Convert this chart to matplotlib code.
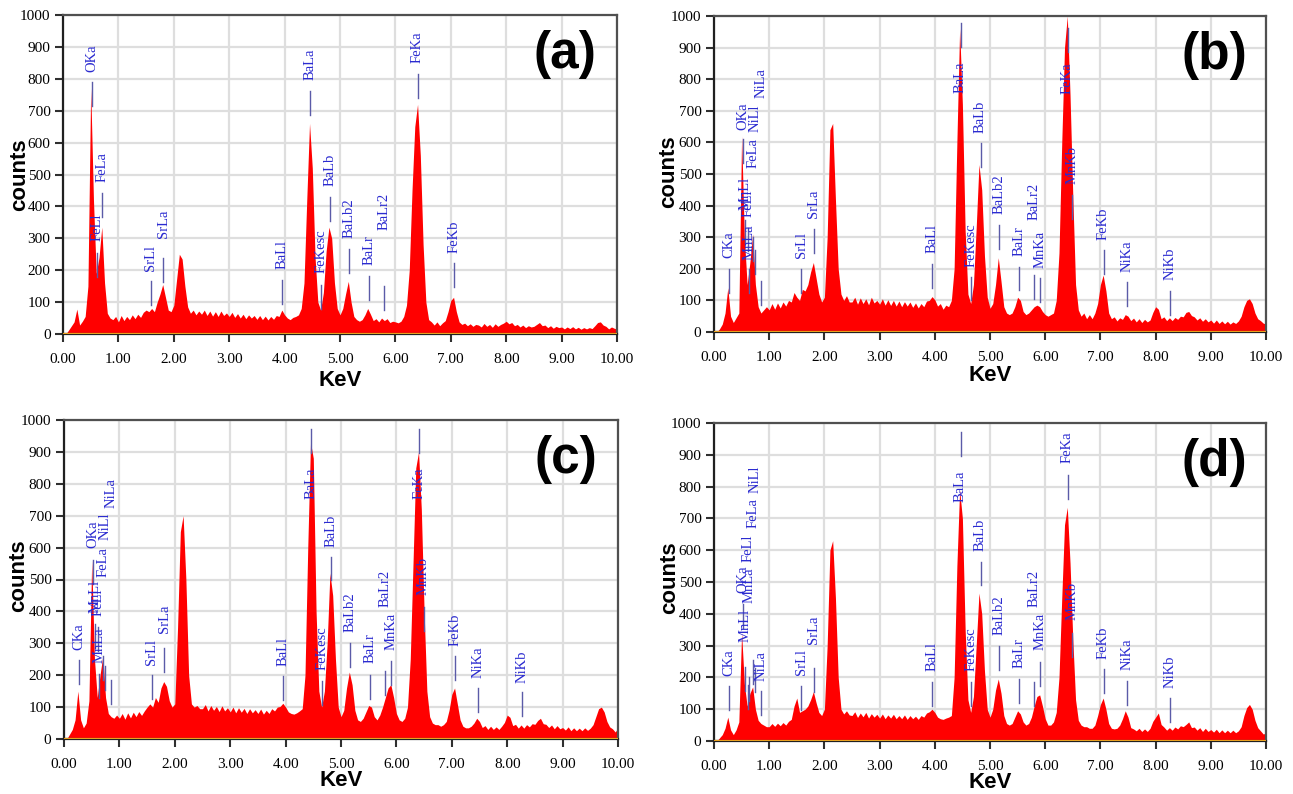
import numpy as np
import matplotlib
matplotlib.use('Agg')
import matplotlib.pyplot as plt

# Energy channels (keV), 0.05 keV step
energy = np.round(np.arange(0, 10.0001, 0.05), 2)

counts_a = [
    0, 0, 12, 25, 38, 78, 28, 40, 55, 150,
    770, 420, 190, 240, 335, 160, 65, 50, 45, 55,
    38, 58, 42, 55, 45, 60, 48, 62, 52, 68,
    75, 70, 80, 70, 100, 125, 155, 115, 75, 70,
    90, 170, 250, 235, 150, 85, 65, 75, 60, 72,
    62, 75, 58, 72, 56, 70, 55, 72, 58, 66,
    55, 68, 52, 64, 50, 62, 48, 60, 50, 58,
    46, 58, 45, 56, 44, 55, 46, 58, 55, 75,
    60, 50, 45, 52, 55, 60, 80, 160, 420, 660,
    520, 240, 100, 75, 130, 260, 335, 300, 160, 80,
    60, 80, 125, 165, 100, 55, 45, 40, 45, 60,
    80, 62, 42, 48, 38, 50, 42, 48, 36, 40,
    38, 35, 40, 55, 90, 200, 450, 650, 720, 560,
    280, 100, 45, 38, 28, 38, 26, 35, 42, 70,
    105, 115, 70, 38, 30, 34, 26, 32, 24, 30,
    28, 22, 33, 24, 30, 21, 32, 24, 30, 34,
    40, 32, 36, 26, 30, 22, 28, 20, 26, 22,
    24, 30, 36, 26, 28, 20, 26, 18, 24, 20,
    22, 16, 22, 17, 23, 16, 21, 15, 20, 16,
    20, 17, 26, 36, 38, 28, 24, 16, 22, 18,
    15]

counts_b = [
    0, 0, 10, 25, 60, 140, 50, 30, 45, 60,
    620, 300, 150, 220, 310, 150, 80, 60, 70, 80,
    70, 90, 72, 92, 76, 95, 82, 100, 95, 125,
    110, 100, 135, 130, 150, 190, 220, 170, 120, 95,
    110, 300, 640, 660, 420, 200, 120, 100, 115, 95,
    95, 110, 88, 108, 90, 105, 86, 110, 92, 100,
    88, 105, 85, 102, 84, 100, 82, 98, 80, 96,
    82, 95, 78, 92, 76, 90, 80, 98, 100, 112,
    102, 82, 90, 72, 85, 80, 100, 200, 600, 960,
    720, 320, 120, 90, 150, 330, 530, 450, 240, 110,
    75, 90, 150, 235, 160, 80, 60, 55, 60, 80,
    110, 100, 65, 55, 60, 70, 80, 85, 80, 65,
    55, 50, 55, 60, 100, 250, 600, 900, 1000, 750,
    430, 150, 70, 50, 60, 42, 55, 42, 60, 90,
    150, 180, 130, 60, 42, 48, 35, 45, 40, 55,
    50, 36, 44, 32, 42, 30, 40, 32, 38, 62,
    80, 72, 42, 48, 36, 45, 36, 46, 40, 50,
    48, 62, 65, 52, 48, 38, 45, 34, 42, 32,
    38, 28, 38, 27, 35, 26, 34, 25, 32, 27,
    35, 50, 80, 100, 105, 90, 60, 42, 36, 28,
    25]

counts_c = [
    0, 0, 15, 30, 60, 150, 60, 35, 50, 120,
    560, 250, 130, 200, 260, 130, 80, 70, 65, 75,
    65, 80, 62, 82, 66, 84, 70, 86, 74, 88,
    100, 110, 100, 130, 115, 160, 180, 165, 120, 100,
    110, 350, 650, 700, 500, 200, 110, 100, 105, 95,
    95, 108, 88, 105, 90, 102, 86, 104, 88, 98,
    85, 100, 82, 98, 84, 96, 80, 95, 82, 92,
    80, 94, 78, 90, 80, 95, 88, 100, 102, 112,
    100, 85, 80, 78, 82, 88, 95, 200, 600, 930,
    880, 400, 150, 100, 150, 300, 520, 450, 250, 100,
    70, 90, 160, 210, 170, 90, 60, 55, 65, 85,
    105, 100, 70, 60, 75, 100, 130, 160, 170, 130,
    80, 60, 55, 65, 100, 250, 550, 850, 900, 720,
    400, 150, 70, 50, 45, 45, 40, 45, 55, 90,
    140, 160, 110, 60, 40, 35, 35, 40, 50, 65,
    55, 36, 42, 30, 40, 30, 38, 30, 40, 52,
    75, 68, 42, 46, 34, 44, 34, 45, 38, 48,
    46, 58, 65, 48, 46, 36, 44, 32, 42, 32,
    36, 28, 38, 26, 35, 26, 34, 26, 35, 27,
    34, 45, 70, 95, 100, 85, 55, 38, 32, 22,
    35]

counts_d = [
    0, 0, 10, 20, 40, 75, 35, 20, 35, 60,
    340, 180, 110, 150, 170, 100, 65, 55, 50, 45,
    45, 55, 46, 56, 48, 58, 50, 62, 68, 110,
    135, 90, 95, 100, 110, 130, 155, 120, 90, 80,
    100, 300, 600, 630, 450, 200, 100, 85, 95, 82,
    80, 92, 74, 88, 76, 90, 72, 86, 75, 84,
    72, 85, 70, 82, 72, 84, 70, 80, 70, 82,
    68, 80, 70, 78, 68, 80, 75, 88, 92, 100,
    90, 75, 70, 68, 72, 75, 80, 200, 550, 790,
    700, 350, 130, 90, 140, 300, 465, 400, 220, 100,
    75, 100, 160, 195, 150, 80, 55, 50, 55, 75,
    95, 85, 60, 50, 55, 75, 110, 140, 145, 110,
    70, 50, 50, 60, 90, 200, 450, 680, 735, 560,
    320, 130, 65, 50, 45, 45, 40, 40, 50, 80,
    115, 135, 100, 55, 40, 38, 40, 50, 70, 95,
    75, 42, 38, 32, 40, 30, 38, 30, 40, 62,
    75, 88, 52, 44, 34, 42, 34, 44, 38, 48,
    45, 52, 60, 42, 44, 34, 42, 30, 40, 30,
    36, 28, 37, 26, 35, 26, 34, 26, 34, 26,
    32, 45, 80, 105, 115, 100, 65, 42, 32, 22,
    25]

# Peak markers: (label, energy keV, marker-line top, label base)
markers_a = [
    ('OKa', 0.525, 790, 820), ('FeLl', 0.615, 255, 290), ('FeLa', 0.705, 442, 477),
    ('SrLl', 1.58, 166, 198), ('SrLa', 1.81, 237, 301), ('BaLl', 3.95, 169, 204),
    ('BaLa', 4.466, 763, 796), ('FeKesc', 4.66, 154, 191), ('BaLb', 4.828, 430, 464),
    ('BaLb2', 5.157, 265, 301), ('BaLr', 5.531, 182, 216), ('BaLr2', 5.80, 150, 326),
    ('FeKa', 6.40, 815, 850), ('FeKb', 7.06, 222, 254)]
markers_b = [
    ('CKa', 0.277, 199, 234), ('OKa', 0.525, 610, 639), ('MnLl', 0.556, 355, 386),
    ('FeLl', 0.615, 330, 365), ('MnLa', 0.637, 200, 228), ('FeLa', 0.705, 300, 519),
    ('NiLl', 0.743, 260, 633), ('NiLa', 0.851, 162, 740), ('SrLl', 1.58, 199, 234),
    ('SrLa', 1.81, 326, 361), ('BaLl', 3.95, 215, 250), ('BaLa', 4.466, 978, 756),
    ('FeKesc', 4.66, 175, 207), ('BaLb', 4.828, 598, 630), ('BaLb2', 5.157, 339, 373),
    ('BaLr', 5.531, 207, 240), ('BaLr2', 5.80, 180, 354), ('MnKa', 5.899, 170, 203),
    ('FeKa', 6.404, 962, 753), ('MnKb', 6.49, 434, 468), ('FeKb', 7.058, 259, 291),
    ('NiKa', 7.478, 158, 190), ('NiKb', 8.265, 130, 165)]
markers_c = [
    ('CKa', 0.277, 248, 280), ('OKa', 0.525, 562, 598), ('MnLl', 0.556, 360, 395),
    ('FeLl', 0.615, 350, 385), ('MnLa', 0.637, 205, 238), ('FeLa', 0.705, 259, 509),
    ('NiLl', 0.743, 230, 624), ('NiLa', 0.851, 186, 723), ('SrLl', 1.58, 201, 233),
    ('SrLa', 1.81, 285, 332), ('BaLl', 3.95, 196, 230), ('BaLa', 4.466, 971, 753),
    ('FeKesc', 4.66, 183, 217), ('BaLb', 4.828, 572, 603), ('BaLb2', 5.157, 301, 335),
    ('BaLr', 5.531, 201, 238), ('BaLr2', 5.80, 212, 415), ('MnKa', 5.899, 245, 280),
    ('FeKa', 6.404, 971, 753), ('MnKb', 6.49, 415, 452), ('FeKb', 7.058, 259, 290),
    ('NiKa', 7.478, 160, 191), ('NiKb', 8.265, 146, 175)]
markers_d = [
    ('CKa', 0.277, 172, 204), ('OKa', 0.525, 430, 464), ('MnLl', 0.556, 233, 312),
    ('FeLl', 0.615, 175, 564), ('MnLa', 0.637, 200, 433), ('FeLa', 0.705, 254, 669),
    ('NiLl', 0.743, 230, 779), ('NiLa', 0.851, 157, 189), ('SrLl', 1.58, 173, 207),
    ('SrLa', 1.81, 228, 305), ('BaLl', 3.95, 186, 221), ('BaLa', 4.466, 972, 753),
    ('FeKesc', 4.66, 186, 221), ('BaLb', 4.828, 564, 599), ('BaLb2', 5.157, 299, 333),
    ('BaLr', 5.531, 196, 230), ('BaLr2', 5.80, 186, 422), ('MnKa', 5.899, 249, 286),
    ('FeKa', 6.404, 837, 874), ('MnKb', 6.49, 340, 380), ('FeKb', 7.058, 225, 259),
    ('NiKa', 7.478, 188, 223), ('NiKb', 8.265, 135, 168)]

panel_tags = ['(a)', '(b)', '(c)', '(d)']
x_ticks = [0, 1, 2, 3, 4, 5, 6, 7, 8, 9, 10]
y_ticks = [0, 100, 200, 300, 400, 500, 600, 700, 800, 900, 1000]

W, H = 1293, 794
fig = plt.figure(figsize=(W / 100, H / 100), dpi=100)

# axes boxes in pixels: (left, right, top, bottom)
boxes = [(63, 617, 15, 334), (714, 1266, 16, 332),
         (64, 618, 420, 739), (714, 1266, 423, 741)]
# centres (pixels) of the axis titles
ylabel_pos = [(20, 175), (669, 172), (19, 576), (670, 578)]
xlabel_pos = [(340, 381), (990, 376), (341, 781), (990, 783)]

serif = ['Liberation Serif', 'DejaVu Serif']
sans = ['Liberation Sans', 'DejaVu Sans']

for i, (box, counts, markers, tag) in enumerate(zip(
        boxes, [counts_a, counts_b, counts_c, counts_d],
        [markers_a, markers_b, markers_c, markers_d], panel_tags)):
    l, r, t, b = box
    ax = fig.add_axes([l / W, 1 - b / H, (r - l) / W, (b - t) / H])
    ax.set_xlim(0, 10)
    ax.set_ylim(0, 1000)
    ax.grid(True, color='#dedede', linewidth=1.6, zorder=0)
    ax.set_axisbelow(True)
    ax.fill_between(energy, counts, 0, color='#ff0000', linewidth=0, zorder=2)
    ax.axhline(0, color='#e8a020', linewidth=1.6, zorder=3)
    for name, e, top, base in markers:
        ax.plot([e, e], [top - 75, top], color='#5b5ba8', linewidth=1.0, zorder=4)
        ax.text(e, base, name, rotation=90, ha='center', va='bottom',
                color='#2a2ad0', fontsize=10.5, family=serif, zorder=5)
    ax.set_xticks(x_ticks)
    ax.set_xticklabels(['%.2f' % v for v in x_ticks], family=serif, fontsize=11)
    ax.set_yticks(y_ticks)
    ax.set_yticklabels([str(v) for v in y_ticks], family=serif, fontsize=11)
    ax.tick_params(axis='both', direction='out', length=6, width=1.5, color='#303030')
    ax.tick_params(axis='x', pad=7.5)
    ax.tick_params(axis='y', pad=3)
    for side in ['left', 'bottom']:
        ax.spines[side].set_color('#202020')
        ax.spines[side].set_linewidth(1.6)
    for side in ['top', 'right']:
        ax.spines[side].set_color('#505050')
        ax.spines[side].set_linewidth(1.6)
    xl, yl = xlabel_pos[i]
    fig.text(xl / W, 1 - yl / H, 'KeV', ha='center', va='center',
             fontsize=16, fontweight='bold', family=sans)
    xl, yl = ylabel_pos[i]
    fig.text(xl / W, 1 - yl / H, 'counts', ha='center', va='center', rotation=90,
             fontsize=16, fontweight='bold', family=sans)
    ax.text(9.06, 875, tag, ha='center', va='center', fontsize=37,
            fontweight='bold', family=sans, zorder=6)

fig.savefig('out.png', dpi=100)
